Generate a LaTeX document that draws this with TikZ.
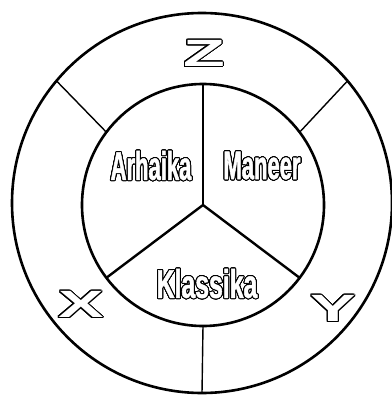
\documentclass[tikz,border=0pt]{standalone}
\usepackage{fontspec}
\usepackage{contour}
\setmainfont{Liberation Sans}
\newfontfamily\sectorfont{Liberation Sans}[FakeStretch=0.55, FakeBold=1.2]
\newfontfamily\widesectorfont{Liberation Sans}[FakeStretch=0.62, FakeBold=1.2]
\newfontfamily\axisfont{Liberation Sans}[FakeStretch=1.8]
\contourlength{1.0pt}
\contournumber{24}
\tikzset{
  ring/.style={draw=black, circle, line width=2.6pt, inner sep=0pt, outer sep=0pt},
  spoke/.style={draw=black, line width=2.4pt},
  thinspoke/.style={draw=black, line width=1.4pt},
  sector/.style={text=white, font=\sectorfont\bfseries\fontsize{40}{40}\selectfont, inner sep=0pt},
  axislabel/.style={text=white, font=\axisfont\bfseries\fontsize{38}{38}\selectfont, inner sep=0pt}
}
\begin{document}
\begin{tikzpicture}[x=1pt,y=-1pt]
\useasboundingbox[fill=white] (0,0) rectangle (391,396);
\node[ring, minimum size=380pt] (outer) at (202,203) {};
\node[ring, minimum size=242pt] (inner) at (203,205) {};
\coordinate (ic) at (203,205);
% inner spokes
\draw[spoke] (ic) -- (inner.90);
\draw[spoke] (ic) -- (inner.217);
\draw[spoke] (ic) -- (inner.323);
% outer spokes
\draw[thinspoke] (inner.143) -- (outer.140);
\draw[thinspoke] (inner.37) -- (outer.40);
\draw[thinspoke] (inner.270) -- (outer.270);
% sector labels
\node[sector] (arh) at (151,166) {\contour{black}{Arhaika}};
\node[sector] (man) at (262,166) {\contour{black}{Maneer}};
\node[sector, font=\widesectorfont\bfseries\fontsize{40}{40}\selectfont] (kla) at (207,284) {\contour{black}{Klassika}};
% axis labels
\node[axislabel] (z) at (204,54) {\contour{black}{Z}};
\node[axislabel] (x) at (81,305) {\contour{black}{X}};
\node[axislabel] (y) at (333,309) {\contour{black}{Y}};
\end{tikzpicture}
\end{document}
